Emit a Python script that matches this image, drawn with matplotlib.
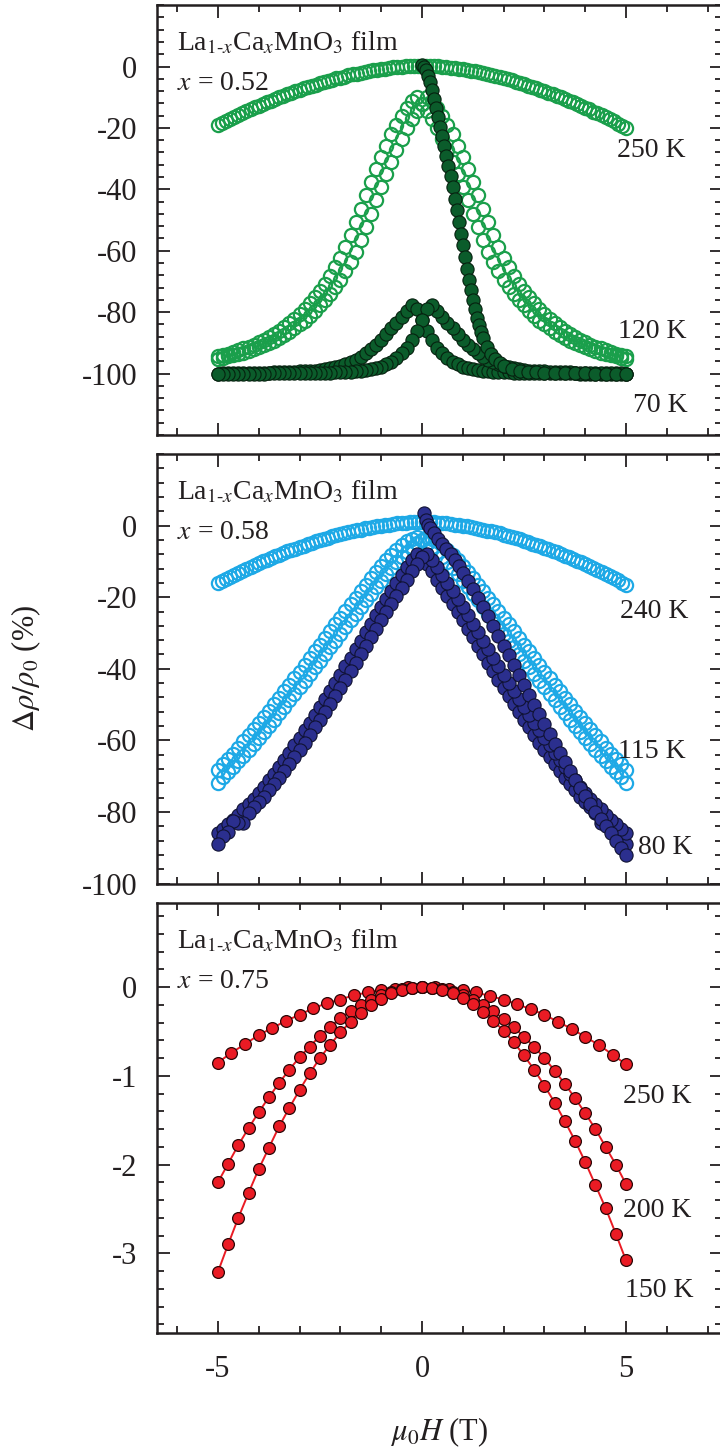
import numpy as np
import matplotlib
matplotlib.use('Agg')
import matplotlib.pyplot as plt
from matplotlib.ticker import MultipleLocator

plt.rcParams['font.family'] = ['Liberation Serif', 'DejaVu Serif']
plt.rcParams['mathtext.fontset'] = 'stix'
plt.rcParams['axes.unicode_minus'] = False
ink = '#231f20'
for key in ('text.color', 'axes.edgecolor', 'axes.labelcolor', 'xtick.color', 'ytick.color'):
    plt.rcParams[key] = ink

# ---------- data ----------
# field grids of the sweeps (T)
field_fine = np.linspace(-5, 5, 101)     # 0.1 T steps
field_sweep = np.linspace(-5, 5, 81)     # 0.125 T steps

# x = 0.52 film
mr_250K = [-19.0, -18.3, -17.6, -17.0, -16.3, -15.7, -15.1, -14.5, -13.9, -13.3,
           -12.8, -12.2, -11.6, -11.1, -10.6, -10.0, -9.5, -9.0, -8.5, -8.1,
           -7.6, -7.1, -6.7, -6.3, -5.9, -5.4, -5.0, -4.7, -4.3, -3.9,
           -3.6, -3.3, -2.9, -2.6, -2.3, -2.0, -1.8, -1.5, -1.3, -1.1,
           -0.8, -0.7, -0.5, -0.3, -0.2, -0.1, 0.1, 0.1, 0.2, 0.3,
           0.3,
           0.3, 0.2, 0.1, 0.1, -0.1, -0.2, -0.4, -0.5, -0.7, -0.9,
           -1.1, -1.4, -1.6, -1.9, -2.2, -2.5, -2.8, -3.1, -3.4, -3.8,
           -4.1, -4.5, -4.9, -5.3, -5.7, -6.2, -6.6, -7.1, -7.5, -8.0,
           -8.5, -9.0, -9.5, -10.0, -10.6, -11.1, -11.7, -12.3, -12.8, -13.4,
           -14.0, -14.7, -15.3, -15.9, -16.6, -17.2, -17.9, -18.6, -19.3, -20.0]

mr_120K = [-94.3, -93.9, -93.5, -93.0, -92.4, -91.8, -91.2, -90.6, -89.8, -89.0,
           -88.0, -87.1, -86.0, -84.8, -83.5, -82.2, -80.6, -78.9, -77.0, -75.1,
           -73.1, -70.9, -68.3, -65.4, -62.3, -58.8, -55.0, -50.6, -46.3, -41.9,
           -37.5, -33.3, -29.5, -25.8, -22.0, -18.9, -16.0, -13.5, -11.3,
           -9.9, -12.1, -14.5, -17.0, -20.1, -23.5, -27.3, -31.0, -34.9, -39.3,
           -43.6, -48.0, -52.4, -56.5, -60.3, -63.5, -66.6, -69.4, -71.8, -74.0,
           -75.9, -77.8, -79.6, -81.3, -82.8, -84.0, -85.3, -86.5, -87.4, -88.4,
           -89.3, -90.1, -90.8, -91.5, -92.1, -92.6, -93.2, -93.7, -94.0, -94.4,
           -94.8, -95.1]

mr_70K = [-100.0, -99.9, -99.9, -99.9, -99.9, -99.8, -99.8, -99.8, -99.7, -99.7,
          -99.7, -99.6, -99.6, -99.5, -99.5, -99.4, -99.3, -99.2, -99.1, -99.0,
          -98.8, -98.6, -98.3, -97.9, -97.5, -96.9, -96.3, -95.5, -94.5, -93.3,
          -92.0, -90.6, -89.0, -87.1, -85.3, -83.4, -81.5, -79.6, -77.8,
          -78.9, -82.5, -86.1, -89.1, -91.6, -93.4, -95.0, -96.2, -97.0, -97.8,
          -98.2, -98.6, -98.9, -99.1, -99.3, -99.4, -99.5, -99.6,
          -99.6, -99.7, -99.7, -99.7, -99.8, -99.8, -99.8, -99.8, -99.9, -99.9,
          -99.9, -99.9, -99.9, -99.9, -100.0, -100.0, -100.0, -100.0, -100.0, -100.0,
          -100.0, -100.0, -100.0, -100.0]

virgin_70K_h = [0.0, 0.05, 0.1, 0.15, 0.2, 0.25, 0.3, 0.35, 0.4, 0.45,
                0.5, 0.55, 0.6, 0.65, 0.7, 0.75, 0.8, 0.85, 0.9, 0.95,
                1.0, 1.05, 1.1, 1.15, 1.2, 1.25, 1.3, 1.35, 1.4, 1.45,
                1.5, 1.6, 1.7, 1.8, 1.9, 2.0, 2.2, 2.4, 2.6, 2.8,
                3.0, 3.25, 3.5, 3.75, 4.0, 4.25, 4.5, 4.75, 5.0]
virgin_70K = [0.5, -0.2, -1.2, -3.0, -5.2, -7.8, -10.6, -13.6, -16.6, -19.6,
              -22.6, -25.8, -29.0, -32.4, -35.8, -39.4, -43.0, -46.8, -50.6, -54.4,
              -58.2, -62.0, -65.8, -69.4, -72.8, -76.0, -79.0, -81.8, -84.2, -86.4,
              -88.3, -91.4, -93.6, -95.3, -96.5, -97.4, -98.5, -99.1, -99.4, -99.6,
              -99.7, -99.8, -99.8, -99.9, -99.9, -100.0, -100.0, -100.0, -100.0]

# x = 0.58 film
mr_240K = [-16.0, -15.4, -14.8, -14.3, -13.7, -13.1, -12.6, -12.1, -11.5, -11.0,
           -10.5, -10.0, -9.5, -9.1, -8.6, -8.1, -7.7, -7.2, -6.8, -6.4,
           -6.0, -5.6, -5.2, -4.8, -4.4, -4.1, -3.7, -3.4, -3.0, -2.7,
           -2.4, -2.1, -1.8, -1.6, -1.3, -1.1, -0.8, -0.6, -0.4, -0.2,
           0.0, 0.2, 0.3, 0.5, 0.6, 0.7, 0.8, 0.9, 0.9, 1.0,
           1.0,
           1.0, 0.9, 0.9, 0.8, 0.7, 0.6, 0.4, 0.3, 0.1, -0.1,
           -0.2, -0.4, -0.7, -0.9, -1.1, -1.4, -1.6, -1.9, -2.2, -2.5,
           -2.8, -3.2, -3.5, -3.8, -4.2, -4.6, -5.0, -5.3, -5.7, -6.2,
           -6.6, -7.0, -7.5, -7.9, -8.4, -8.8, -9.3, -9.8, -10.3, -10.8,
           -11.4, -11.9, -12.4, -13.0, -13.6, -14.1, -14.7, -15.3, -15.9, -16.5]

mr_115K = [-68.2, -66.7, -65.2, -63.7, -62.0, -60.3, -58.6, -56.9, -55.2, -53.5,
           -51.7, -49.9, -48.1, -46.3, -44.5, -42.6, -40.8, -38.9, -37.0, -35.1,
           -33.3, -31.4, -29.5, -27.6, -25.8, -23.9, -22.0, -20.1, -18.3, -16.5,
           -14.7, -12.9, -11.3, -9.7, -8.2, -6.8, -5.5, -4.4, -3.6,
           -3.2, -3.9, -4.8, -6.0, -7.3, -8.8, -10.3, -11.9, -13.6, -15.4,
           -17.2, -19.0, -20.9, -22.8, -24.6, -26.5, -28.4, -30.3, -32.1, -34.0,
           -35.9, -37.8, -39.6, -41.5, -43.4, -45.2, -47.0, -48.8, -50.7, -52.4,
           -54.2, -55.9, -57.6, -59.3, -60.9, -62.7, -64.3, -65.8, -67.3, -68.8,
           -70.3, -71.8]

mr_80K = [-86.0, -84.8, -83.5, -82.3, -80.8, -79.3, -77.8, -76.3, -74.6, -72.9,
          -71.1, -69.4, -67.4, -65.4, -63.4, -61.4, -59.3, -57.2, -55.1, -52.9,
          -50.7, -48.5, -46.2, -44.0, -41.6, -39.2, -36.9, -34.5, -32.1, -29.7,
          -27.4, -25.0, -22.7, -20.5, -18.2, -16.0, -13.7, -11.5, -9.6,
          -7.9, -8.9, -10.7, -12.8, -15.1, -17.3, -19.6, -21.8, -24.1, -26.4,
          -28.8, -31.2, -33.5, -35.9, -38.3, -40.7, -43.0, -45.3, -47.6, -49.8,
          -52.1, -54.2, -56.3, -58.5, -60.6, -62.6, -64.6, -66.6, -68.6, -70.4,
          -72.2, -73.9, -75.7, -77.2, -78.7, -80.2, -83.0, -83.0, -82.5, -85.5,
          -86.8, -89.0]

virgin_80K_h = [0.05, 0.1, 0.15, 0.2, 0.3, 0.4, 0.5, 0.6, 0.7, 0.8, 0.9,
                1.0, 1.125, 1.25, 1.375, 1.5, 1.625, 1.75, 1.875, 2.0, 2.125,
                2.25, 2.375, 2.5, 2.625, 2.75, 2.875, 3.0, 3.125, 3.25, 3.375,
                3.5, 3.625, 3.75, 3.875, 4.0, 4.125, 4.25, 4.375, 4.5, 4.625,
                4.75, 4.875, 5.0]
virgin_80K = [3.5, 1.5, 0.2, -0.8, -2.2, -3.6, -5.0, -6.5, -8.0, -9.6, -11.3,
              -13.1, -15.4, -17.8, -20.2, -22.7, -25.3, -28.0, -30.8, -33.5, -36.2,
              -39.0, -41.7, -44.5, -47.2, -50.0, -52.7, -55.5, -58.2, -61.0, -63.5,
              -66.0, -68.5, -71.0, -73.3, -75.5, -77.8, -80.0, -82.0, -84.0, -86.0,
              -88.0, -90.0, -92.0]

# x = 0.75 film
h_250K = [-5.0, -4.67, -4.33, -4.0, -3.67, -3.33, -3.0, -2.67, -2.33, -2.0, -1.67,
          -1.33, -1.0, -0.67, -0.33, 0.0, 0.33, 0.67, 1.0, 1.33, 1.67,
          2.0, 2.33, 2.67, 3.0, 3.33, 3.67, 4.0, 4.33, 4.67, 5.0]
mr3_250K = [-0.85, -0.74, -0.64, -0.54, -0.46, -0.38, -0.31, -0.24, -0.18, -0.14, -0.09,
            -0.06, -0.03, -0.02, 0.0, 0.0, 0.0, -0.02, -0.03, -0.06, -0.10,
            -0.14, -0.19, -0.25, -0.31, -0.39, -0.47, -0.56, -0.65, -0.76, -0.87]
h_low = np.linspace(-5, 5, 41)
mr3_200K = [-2.20, -1.99, -1.78, -1.59, -1.41, -1.24, -1.08, -0.93, -0.79, -0.67,
            -0.55, -0.45, -0.35, -0.27, -0.20, -0.14, -0.09, -0.05, -0.02, -0.01,
            0.0,
            -0.01, -0.02, -0.05, -0.09, -0.14, -0.20, -0.27, -0.36, -0.45, -0.56,
            -0.67, -0.80, -0.94, -1.09, -1.25, -1.42, -1.60, -1.80, -2.00, -2.22]
mr3_150K = [-3.21, -2.90, -2.60, -2.32, -2.05, -1.81, -1.57, -1.36, -1.16, -0.97,
            -0.80, -0.65, -0.51, -0.39, -0.29, -0.20, -0.13, -0.07, -0.03, -0.01,
            0.0,
            -0.01, -0.03, -0.07, -0.12, -0.19, -0.28, -0.38, -0.49, -0.62, -0.77,
            -0.93, -1.11, -1.30, -1.51, -1.73, -1.97, -2.23, -2.49, -2.78, -3.08]

green_open = '#1a9f4b'
green_full = '#0b5c2b'
blue_open = '#1ea9e6'
blue_full = '#2b2f8e'
red_full = '#ea1b24'

fig = plt.figure(figsize=(7.2, 14.52), dpi=100)
ax1 = fig.add_axes([0.2176, 0.7004, 0.7851, 0.2961])
ax2 = fig.add_axes([0.2176, 0.3915, 0.7851, 0.2958])
ax3 = fig.add_axes([0.2176, 0.0818, 0.7851, 0.2964])

open_kw = dict(ls='none', marker='o', ms=9.5, mfc='none', mew=1.6)
full_kw = dict(ls='none', marker='o', ms=9.5, mew=0.8)

# top panel
ax1.plot(field_fine, mr_250K, mec=green_open, **open_kw)
ax1.plot(field_sweep, mr_120K, mec=green_open, **open_kw)
ax1.plot(-field_sweep, mr_120K, mec=green_open, **open_kw)
ax1.plot(field_sweep, mr_70K, mfc=green_full, mec='#06210f', **full_kw)
ax1.plot(-field_sweep, mr_70K, mfc=green_full, mec='#06210f', **full_kw)
ax1.plot(virgin_70K_h, virgin_70K, mfc=green_full, mec='#06210f', **full_kw)

# middle panel
ax2.plot(field_fine, mr_240K, mec=blue_open, **open_kw)
ax2.plot(field_sweep, mr_115K, mec=blue_open, **open_kw)
ax2.plot(-field_sweep, mr_115K, mec=blue_open, **open_kw)
ax2.plot(field_sweep, mr_80K, mfc=blue_full, mec='#101233', **full_kw)
ax2.plot(-field_sweep, mr_80K, mfc=blue_full, mec='#101233', **full_kw)
ax2.plot(virgin_80K_h, virgin_80K, mfc=blue_full, mec='#101233', **full_kw)

# bottom panel
red_kw = dict(color=red_full, lw=1.4, marker='o', ms=8.5, mfc=red_full, mec='#2a0606', mew=0.9)
ax3.plot(h_250K, mr3_250K, **red_kw)
ax3.plot(h_low, mr3_200K, **red_kw)
ax3.plot(h_low, mr3_150K, **red_kw)

for ax in (ax1, ax2, ax3):
    ax.set_xlim(-6.5, 7.35)
    ax.xaxis.set_major_locator(MultipleLocator(5))
    ax.xaxis.set_minor_locator(MultipleLocator(1))
    ax.tick_params(which='both', direction='in', top=True, right=True,
                   width=1.3, labelsize=22, pad=14)
    ax.tick_params(which='major', length=9)
    ax.tick_params(which='minor', length=5)
    for s in ax.spines.values():
        s.set_linewidth(1.8)

ax1.set_ylim(-120, 20)
ax1.set_yticks([-100, -80, -60, -40, -20, 0])
ax1.yaxis.set_minor_locator(MultipleLocator(4))
ax2.set_ylim(-100, 20)
ax2.set_yticks([-100, -80, -60, -40, -20, 0])
ax2.yaxis.set_minor_locator(MultipleLocator(4))
ax3.set_ylim(-3.9, 0.95)
ax3.set_yticks([-3, -2, -1, 0])
ax3.yaxis.set_minor_locator(MultipleLocator(0.2))

ax1.tick_params(labelbottom=False)
ax2.tick_params(labelbottom=False)
ax3.tick_params(axis='x', pad=16)

# annotations
for ax, comp in ((ax1, '0.52'), (ax2, '0.58'), (ax3, '0.75')):
    ax.text(0.036, 0.895, r'La$_{\mathrm{1\text{-}}x}$Ca$_x$MnO$_3$ film',
            transform=ax.transAxes, fontsize=20, va='baseline')
    ax.text(0.036, 0.802, r'$x$ = ' + comp,
            transform=ax.transAxes, fontsize=20, va='baseline')

ax1.text(4.77, -27.2, '250 K', fontsize=20, va='center')
ax1.text(4.8, -86.4, '120 K', fontsize=20, va='center')
ax1.text(5.16, -110.3, '70 K', fontsize=20, va='center')
ax2.text(4.85, -24.0, '240 K', fontsize=20, va='center')
ax2.text(4.8, -63.0, '115 K', fontsize=20, va='center')
ax2.text(5.3, -89.8, '80 K', fontsize=20, va='center')
ax3.text(4.93, -1.23, '250 K', fontsize=20, va='center')
ax3.text(4.93, -2.52, '200 K', fontsize=20, va='center')
ax3.text(4.97, -3.42, '150 K', fontsize=20, va='center')

ax2.set_ylabel(r'$\Delta\rho/\rho_0$ (%)', fontsize=22)
ax2.yaxis.set_label_coords(-0.201, 0.5)
ax3.set_xlabel(r'$\mu_0H$ (T)', fontsize=22)
ax3.xaxis.label.set_verticalalignment('center')
ax3.xaxis.set_label_coords(0.5, -0.229)

fig.savefig('out.png', dpi=100)
